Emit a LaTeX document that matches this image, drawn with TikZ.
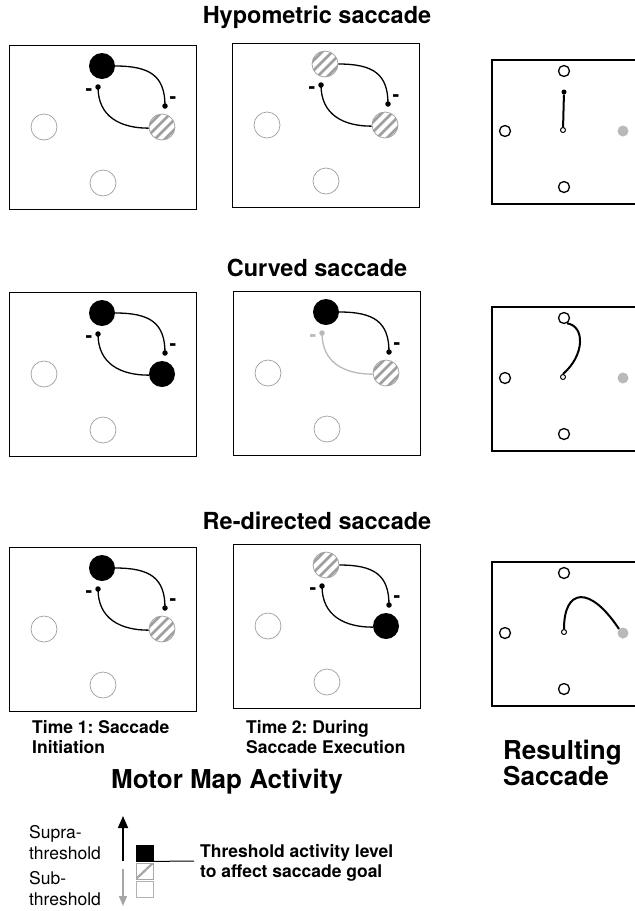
\documentclass[tikz,border=0pt]{standalone}
\usepackage{fontspec}
\setmainfont{TeX Gyre Heros}
\frenchspacing
\usetikzlibrary{calc,arrows.meta}
\tikzset{
  panelbox/.style={draw, line width=1.3pt, rectangle, minimum width=187pt, minimum height=164pt, anchor=north west, inner sep=0pt},
  inact/.style={circle, draw=gray!75, line width=0.7pt, minimum size=26pt, inner sep=0pt},
  act/.style={circle, fill=black, minimum size=26pt, inner sep=0pt},
  hatch/.style={circle, draw=gray!75, line width=0.7pt, minimum size=26pt, inner sep=0pt,
    path picture={\foreach \k in {-15,-5,5,15}{\draw[gray!75,line width=2.6pt]
      ($(path picture bounding box.center)+(\k pt-20pt,-20pt)$) -- ($(path picture bounding box.center)+(\k pt+20pt,20pt)$);}}},
  dot/.style={circle, fill=black, minimum size=5.5pt, inner sep=0pt},
  arcline/.style={line width=1.3pt},
  minus/.style={font=\bfseries\fontsize{20}{20}\selectfont, inner sep=0pt},
  resframe/.style={line width=1.3pt},
  rc/.style={circle, draw=black, line width=1.3pt, minimum size=11pt, inner sep=0pt},
  rtarget/.style={circle, fill=gray!55, minimum size=11pt, inner sep=0pt},
  rstart/.style={circle, draw=black, fill=white, line width=1pt, minimum size=5pt, inner sep=0pt},
  sacc/.style={line width=2pt},
  ttl/.style={font=\bfseries\fontsize{23.5}{28}\selectfont, inner sep=0pt},
  lab/.style={font=\bfseries\fontsize{17.5}{20.5}\selectfont, align=left, inner sep=0pt},
  big/.style={font=\bfseries\fontsize{26}{26}\selectfont, inner sep=0pt},
  leg/.style={font=\fontsize{17.5}{21}\selectfont, align=left, inner sep=0pt},
  sq/.style={rectangle, minimum width=17pt, minimum height=16pt, inner sep=0pt, line width=0.8pt}
}
\newcommand\mappanel[6]{%
  \begin{scope}[shift={(#2,#3)}]
    \node[panelbox] (#1box) at (0,0) {};
    \node[#4] (#1t) at (93,21) {};
    \node[#5] (#1r) at (153,82) {};
    \node[inact] (#1l) at (35,82) {};
    \node[inact] (#1b) at (94,138) {};
    \node[dot, fill=#6] (#1ld) at (89,42) {};
    \node[dot] (#1rd) at (156,61) {};
    \draw[arcline] (#1t.east) .. controls +(35,0) and +(0,-30) .. (#1rd.center);
    \draw[arcline, draw=#6] (#1ld.center) .. controls +(0,30) and +(-28,0) .. (#1r.185);
    \node[minus, text=#6] (#1lm) at (80,47) {-};
    \node[minus] (#1rm) at (164,55) {-};
  \end{scope}}
\newcommand\respanel[2]{%
  \begin{scope}[shift={(492,#2)}]
    \draw[resframe] (143,0) -- (0,0) -- (0,144) -- (143,144);
    \node[rc] (#1t) at (72,11) {};
    \node[rc] (#1l) at (13,71) {};
    \node[rtarget] (#1r) at (131,71) {};
    \node[rc] (#1b) at (72,127) {};
  \end{scope}}
\begin{document}
\begin{tikzpicture}[x=1pt,y=-1pt]
\useasboundingbox[fill=white] (0,0) rectangle (635,911);
% titles
\node[ttl] (h1) at (317,17) {Hypometric saccade};
\node[ttl] (h2) at (317,268) {Curved saccade};
\node[ttl] (h3) at (317,521) {Re-directed saccade};
% motor map panels
\mappanel{a1}{9}{45}{act}{hatch}{black}
\mappanel{a2}{232}{43}{hatch}{hatch}{black}
\mappanel{b1}{9}{292}{act}{act}{black}
\mappanel{b2}{233}{291}{act}{hatch}{gray!55}
\mappanel{c1}{9}{547}{act}{hatch}{black}
\mappanel{c2}{233}{544}{hatch}{act}{black}
% resulting saccade panels
\respanel{ra}{60}
\node[rstart] (ras) at (563,130) {};
\node[dot, minimum size=5pt] (rae) at (564,92) {};
\draw[sacc] (ras) -- (rae);
\respanel{rb}{307}
\node[rstart] (rbs) at (563,377) {};
\draw[sacc] (rbs.north) .. controls (585,355) and (585,326) .. (rbt.-60);
\respanel{rc}{562}
\node[rstart] (rcs) at (564,632) {};
\draw[sacc] (rcs.north) .. controls (564,588) and (590,585) .. (rcr.north west);
% labels
\node[lab, anchor=west] (t1) at (32,737) {Time 1: Saccade\\Initiation};
\node[lab, anchor=west] (t2) at (246,737) {Time 2: During\\Saccade Execution};
\node[big] (mma) at (227,782) {Motor Map Activity};
\node[big, anchor=west, align=left] (rs) at (503,763) {Resulting\\Saccade};
% legend
\node[leg, anchor=west] (supra) at (29,843) {Supra-\\threshold};
\node[leg, anchor=west] (sub) at (29,889) {Sub-\\threshold};
\coordinate (upS) at (123,861);
\coordinate (upE) at (123,816);
\draw[line width=1.7pt, -{Triangle[length=12pt,width=10pt]}] (upS) -- (upE);
\coordinate (dnS) at (123,869);
\coordinate (dnE) at (123,906);
\draw[gray!70, line width=1.4pt, -{Triangle[length=10pt,width=8pt]}] (dnS) -- (dnE);
\node[sq, draw=black, fill=black] (sqA) at (144.5,853) {};
\node[sq, draw=gray!70, path picture={\draw[gray!70,line width=2.2pt] (path picture bounding box.south west) -- (path picture bounding box.north east);}] (sqB) at (144.5,871) {};
\node[sq, draw=gray!60] (sqC) at (144.5,889) {};
\coordinate (thr) at (194,861);
\draw[line width=1pt] (sqA.south east) -- (thr);
\node[lab, anchor=west] (thrtext) at (200,863) {Threshold activity level\\to affect saccade goal};
\end{tikzpicture}
\end{document}
